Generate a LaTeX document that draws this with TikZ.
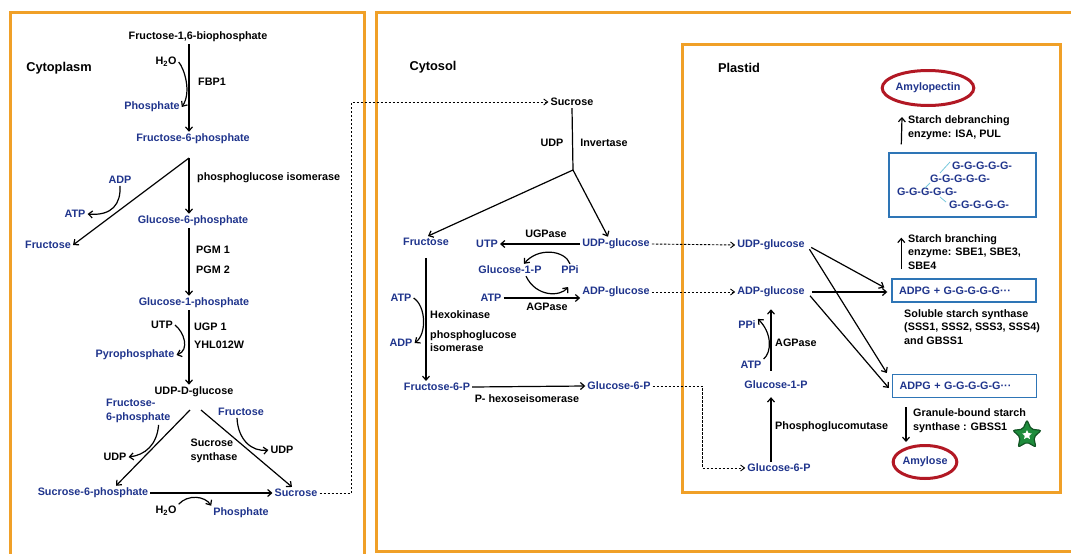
\documentclass[tikz,border=0pt]{standalone}
\usepackage{fontspec}
\setmainfont{Liberation Sans}
\usepackage{tikz}
\usetikzlibrary{arrows.meta}
\usetikzlibrary{calc}
\usetikzlibrary{shapes}

\definecolor{metblue}{RGB}{31,52,140}
\definecolor{frameorange}{RGB}{240,160,40}
\definecolor{boxblue}{RGB}{46,117,182}
\definecolor{ovalred}{RGB}{178,24,36}
\definecolor{stargreen}{RGB}{30,140,60}
\definecolor{linkcyan}{RGB}{120,200,220}

\begin{document}
\begin{tikzpicture}[x=1pt, y=-1pt,
        met_style/.style={text=metblue, font=\fontsize{10.8}{13.6}\selectfont\bfseries, inner sep=2pt},
        lbl_style/.style={text=black, font=\fontsize{10.8}{13.6}\selectfont\bfseries, inner sep=2pt},
        enz_style/.style={lbl_style, anchor=west, align=left},
        title_style/.style={text=black, font=\fontsize{12.8}{15}\selectfont\bfseries},
        frame_style/.style={draw=frameorange, line width=3pt},
        box_style/.style={draw=boxblue, line width=1.4pt, text=metblue, font=\fontsize{10.8}{13.6}\selectfont\bfseries, inner sep=0pt},
        oval_style/.style={ellipse, draw=ovalred, line width=3pt, text=metblue, font=\fontsize{10.8}{13.6}\selectfont\bfseries, inner sep=0pt},
        chain_style/.style={text=metblue, font=\fontsize{10.8}{13.6}\selectfont\bfseries, inner sep=1pt},
        link_style/.style={draw=linkcyan, line width=0.8pt},
        edge_style/.style={draw=black, line width=1.2pt, -{Straight Barb[length=4pt,width=7pt]}},
        line_style/.style={draw=black, line width=1.2pt},
        dash_style/.style={draw=black, line width=0.9pt, dash pattern=on 2.5pt off 1.5pt, -{Straight Barb[length=4pt,width=6pt]}}]

        \useasboundingbox (0,0) rectangle (1071,554);

        % compartments
        \begin{scope}
          \clip (0,0) rectangle (1071,554);
          \draw [frame_style] (10,12) rectangle (364,580);
          \draw [frame_style] (376,12) rectangle (1100,551);
          \draw [frame_style] (682,44) rectangle (1060,492);
        \end{scope}

        % cytoplasm
        \node [title_style](cyto) at (59,68) {Cytoplasm};
        \node [lbl_style](f16bp) at (198,37) {Fructose-1,6-biophosphate};
        \node [lbl_style](h2o_a) at (166,62) {H\textsubscript{2}O};
        \node [enz_style](fbp1) at (196,82) {FBP1};
        \node [met_style](pi_a) at (152,107) {Phosphate};
        \node [met_style](f6p) at (193,139) {Fructose-6-phosphate};
        \node [enz_style](pgi_a) at (195,178) {phosphoglucose isomerase};
        \node [met_style](adp_a) at (120,180) {ADP};
        \node [met_style](atp_a) at (75,214) {ATP};
        \node [met_style](fru_a) at (48,245) {Fructose};
        \node [met_style](g6p) at (193,221) {Glucose-6-phosphate};
        \node [enz_style](pgm1) at (194,250) {PGM 1};
        \node [enz_style](pgm2) at (194,270) {PGM 2};
        \node [met_style](g1p) at (194,303) {Glucose-1-phosphate};
        \node [lbl_style](utp_a) at (162,325) {UTP};
        \node [enz_style](ugp1) at (192,327) {UGP 1};
        \node [enz_style](yhl) at (192,345) {YHL012W};
        \node [met_style](ppi_a) at (135,355) {Pyrophosphate};
        \node [lbl_style](udpg) at (194,392) {UDP-D-glucose};
        \node [met_style, anchor=west, align=left](f6p_b) at (104,411) {Fructose-\\6-phosphate};
        \node [met_style](fru_b) at (241,412) {Fructose};
        \node [lbl_style, align=left](sus) at (214,451) {Sucrose\\synthase};
        \node [lbl_style](udp_b) at (115,457) {UDP};
        \node [lbl_style](udp_c) at (282,450) {UDP};
        \node [met_style](s6p) at (93,493) {Sucrose-6-phosphate};
        \node [met_style](suc_a) at (296,493) {Sucrose};
        \node [lbl_style](h2o_b) at (166,511) {H\textsubscript{2}O};
        \node [met_style](pi_b) at (241,513) {Phosphate};

        \coordinate (ax1) at (189,0);
        \coordinate (b1) at (189,158);
        \coordinate (b3) at (190,410);
        \coordinate (b4) at (201,410);

        \draw [edge_style] (f16bp.south -| ax1) -- (f6p.north -| ax1);
        \draw [edge_style] (h2o_a.east) .. controls (184,68) and (192,92) .. (pi_a.east);
        \draw [edge_style] (b1) -- (g6p.north -| ax1);
        \draw [edge_style] (b1) -- (fru_a.east);
        \draw [edge_style] (adp_a.south) .. controls (121,204) and (112,216) .. (atp_a.east);
        \draw [edge_style] (g6p.south -| ax1) -- (g1p.north -| ax1);
        \draw [edge_style] (g1p.south -| ax1) -- (udpg.north -| ax1);
        \draw [edge_style] (utp_a.east) .. controls (184,332) and (190,350) .. (ppi_a.east);
        \draw [edge_style] (b3) -- ([xshift=23pt]s6p.north);
        \draw [edge_style] (b4) -- ([xshift=-4pt]suc_a.north);
        \draw [edge_style] ([xshift=-14pt]f6p_b.south east) .. controls (157,445) and (145,455) .. (udp_b.east);
        \draw [edge_style] ([xshift=-4pt]fru_b.south) .. controls (238,440) and (252,452) .. (udp_c.west);
        \draw [edge_style] (s6p.east) -- (suc_a.west);
        \draw [edge_style] (h2o_b.north east) .. controls (188,494) and (205,496) .. (pi_b.north west);

        % cytosol
        \node [title_style](cytosol) at (433,67) {Cytosol};
        \node [lbl_style](suc_b) at (572,102) {Sucrose};
        \node [lbl_style](udp_d) at (552,143) {UDP};
        \node [lbl_style](inv) at (604,143) {Invertase};
        \coordinate (b5) at (573,170);
        \node [met_style](fru_c) at (426,242) {Fructose};
        \node [met_style](utp_c) at (487,244) {UTP};
        \node [lbl_style](ugpase) at (546,234) {UGPase};
        \node [met_style](udpg_c) at (616,244) {UDP-glucose};
        \node [met_style](g1p_c) at (510,270) {Glucose-1-P};
        \node [met_style](ppi_c) at (570,270) {PPi};
        \node [met_style](atp_c) at (491,298) {ATP};
        \node [lbl_style](agpase_c) at (547,307) {AGPase};
        \node [met_style](adpg_c) at (616,292) {ADP-glucose};
        \node [met_style](atp_d) at (401,298) {ATP};
        \node [met_style](adp_d) at (401,343) {ADP};
        \node [enz_style](hexo) at (428,315) {Hexokinase};
        \node [enz_style](pgi_c) at (428,341) {phosphoglucose\\isomerase};
        \node [met_style](f6p_c) at (437,387) {Fructose-6-P};
        \node [lbl_style](phex) at (527,399) {P- hexoseisomerase};
        \node [met_style](g6p_c) at (619,386) {Glucose-6-P};

        \draw [dash_style] (suc_a.east) -- ++(32,0) |- (suc_b.west);
        \draw [line_style] (suc_b.south) -- (b5);
        \draw [edge_style] (b5) -- ([xshift=2pt]fru_c.north);
        \draw [edge_style] (b5) -- ([xshift=-8pt]udpg_c.north);
        \draw [edge_style] (udpg_c.west) -- (utp_c.east);
        \draw [edge_style] (ppi_c.north) .. controls (565,250) and (538,247) .. ([xshift=14pt]g1p_c.north);
        \draw [edge_style] ([xshift=16pt]g1p_c.south) .. controls (536,297) and (560,297) .. ([xshift=-12pt,yshift=5pt]adpg_c.west);
        \draw [edge_style] (atp_c.east) -- (atp_c.east -| adpg_c.west);
        \draw [edge_style, shorten <=10pt] (fru_c.south) -- (fru_c.south |- f6p_c.north);
        \draw [edge_style] (atp_d.east) .. controls (426,306) and (427,334) .. (adp_d.east);
        \draw [edge_style] (f6p_c.east) -- (g6p_c.west);

        % plastid
        \node [title_style](plastid) at (739,68) {Plastid};
        \node [oval_style, minimum width=90pt, minimum height=35pt](amylopectin) at (928,88) {Amylopectin};
        \node [enz_style](debr) at (906,128) {Starch debranching\\enzyme: ISA, PUL};
        \node [box_style, minimum width=147pt, minimum height=64pt](gbox) at (962.5,185) {};
        \node [chain_style](ch1) at (982,166) {G-G-G-G-G-};
        \node [chain_style](ch2) at (960,179) {G-G-G-G-G-};
        \node [chain_style](ch3) at (927,192) {G-G-G-G-G-};
        \node [chain_style](ch4) at (979,205) {G-G-G-G-G-};
        % branch bonds
        \draw [link_style] (950,162) -- (940,173);
        \draw [link_style] (930,183) -- (925,188);
        \draw [link_style] (940,197) -- (946,202);
        \node [enz_style](branch) at (906,252) {Starch branching\\enzyme: SBE1, SBE3,\\SBE4};
        \node [box_style, minimum height=23pt, text width=130pt, align=left, inner xsep=7pt](box1) at (964,290.5) {ADPG + G-G-G-G-G···};
        \node [enz_style](sss) at (902,327) {Soluble starch synthase\\(SSS1, SSS2, SSS3, SSS4)\\and GBSS1};
        \node [box_style, minimum height=23pt, text width=130pt, align=left, inner xsep=7pt](box2) at (964.5,386) {ADPG + G-G-G-G-G···};
        \node [enz_style](gbss) at (911,421) {Granule-bound starch\\synthase : GBSS1};
        \node [oval_style, minimum width=63pt, minimum height=33pt](amylose) at (925,462) {Amylose};
        \node [star, star points=5, star point ratio=2.1, inner sep=0pt, minimum size=30pt, fill=stargreen, draw=stargreen!60!black, line width=1.2pt, rounded corners=2pt](badge) at (1027,435) {};
        \node [star, star points=5, star point ratio=2.1, inner sep=0pt, minimum size=10pt, fill=white](badge_core) at (badge.center) {};

        \node [met_style](udpg_p) at (771,245) {UDP-glucose};
        \node [met_style](adpg_p) at (771,292) {ADP-glucose};
        \node [met_style](ppi_p) at (747,325) {PPi};
        \node [met_style](atp_p) at (751,365) {ATP};
        \node [enz_style](agpase_p) at (773,343) {AGPase};
        \node [met_style](g1p_p) at (776,385) {Glucose-1-P};
        \node [enz_style](pgm_p) at (773,427) {Phosphoglucomutase};
        \node [met_style](g6p_p) at (779,468) {Glucose-6-P};

        \draw [dash_style] (udpg_c.east) -- (udpg_p.west);
        \draw [dash_style] (adpg_c.east) -- (adpg_p.west);
        \draw [dash_style] (g6p_c.east) -- ++(50,0) |- (g6p_p.west);
        \draw [edge_style, shorten >=6pt] ([xshift=-8pt]g6p_p.north) -- ([xshift=-5pt]g1p_p.south);
        \draw [edge_style, shorten <=8pt, shorten >=10pt] ([xshift=-5pt]g1p_p.north) -- (adpg_p.south);
        \draw [edge_style] (atp_p.north east) .. controls (772,352) and (772,333) .. (ppi_p.north east);
        \draw [edge_style, shorten <=5pt] (udpg_p.east) -- ([xshift=-7pt,yshift=3pt]box1.west);
        \draw [edge_style, shorten <=5pt] (udpg_p.east) -- ([xshift=-5pt,yshift=13pt]box2.west);
        \draw [edge_style, shorten <=5pt] (adpg_p.east) -- ([xshift=-4pt,yshift=-1.5pt]box1.west);
        \draw [edge_style, shorten <=5pt] (adpg_p.east) -- ([xshift=-3pt,yshift=-2pt]box2.west);
        \draw [edge_style] ([xshift=10pt,yshift=9pt]box1.north west) -- ([xshift=13pt,yshift=-20pt]gbox.south west);
        \draw [edge_style] ([xshift=13pt,yshift=8pt]gbox.north west) -- ([xshift=-26pt,yshift=-10pt]amylopectin.south);
        \draw [edge_style] ([xshift=-19pt,yshift=37pt]amylose.north) -- ([xshift=-19pt,yshift=2pt]amylose.north);
        \end{tikzpicture}
\end{document}
